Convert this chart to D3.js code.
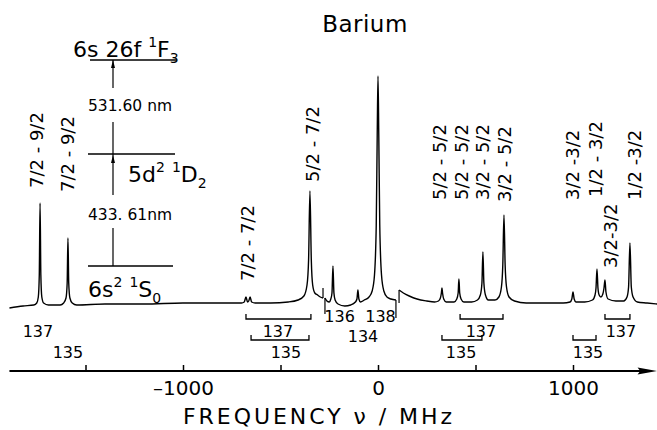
<!DOCTYPE html>
<html>
<head>
<meta charset="utf-8">
<script src="https://cdn.jsdelivr.net/npm/d3@7"></script>
<style>
  body { margin: 0; background: #fff; }
  svg { display: block; font-family: "DejaVu Sans", sans-serif; }
</style>
</head>
<body>
<div id="chart"></div>
<script>
// recorded spectrum, three segments: [frequency MHz, signal a.u.]
const traceA = [
    [-1890, -3], [-1820, -1], [-1765, 0], [-1750, 2], [-1742, 8], [-1737, 30], [-1733, 102],
    [-1729, 30], [-1724, 8], [-1715, 2], [-1690, 0], [-1630, 0], [-1612, 2], [-1600, 7],
    [-1594, 22], [-1590, 67], [-1586, 22], [-1580, 7], [-1568, 2], [-1545, 0], [-1400, 1],
    [-1200, 1], [-1000, 2], [-800, 2], [-700, 2], [-686, 3], [-677, 8], [-669, 3], [-663, 4],
    [-656, 8], [-648, 3], [-630, 2], [-550, 2], [-460, 3], [-410, 5], [-380, 9], [-364, 20],
    [-356, 45], [-349, 114], [-342, 45], [-335, 20], [-324, 12], [-310, 10], [-296, 8], [-282, 7]
];
const traceB = [
    [-272, 7], [-262, 4], [-250, 3], [-242, 6], [-236, 12], [-231, 39], [-226, 12], [-220, 5],
    [-205, 1], [-170, -1], [-140, 0], [-116, 3], [-108, 6], [-103, 15], [-98, 6], [-90, 3],
    [-70, 5], [-46, 8], [-30, 14], [-18, 30], [-9, 80], [-4, 170], [0, 229], [4, 170], [9, 80],
    [18, 30], [30, 14], [46, 8], [66, 6], [92, 5]
];
const traceC = [
    [108, 15], [130, 12], [160, 9], [200, 6], [250, 4], [290, 3], [310, 4], [320, 7], [325, 12],
    [328, 17], [331, 12], [337, 6], [350, 3], [390, 3], [404, 6], [411, 12], [415, 26], [419, 12],
    [426, 6], [440, 3], [480, 3], [510, 5], [525, 10], [533, 22], [538, 53], [543, 22], [551, 10],
    [566, 5], [600, 5], [620, 8], [633, 18], [640, 40], [646, 90], [652, 40], [659, 18], [672, 8],
    [700, 4], [760, 2], [850, 2], [950, 2], [985, 3], [994, 6], [1000, 13], [1006, 6], [1015, 3],
    [1060, 3], [1100, 5], [1113, 10], [1118, 17], [1123, 36], [1128, 17], [1134, 10], [1143, 8],
    [1153, 11], [1159, 17], [1164, 25], [1169, 13], [1180, 6], [1220, 4], [1260, 4], [1277, 8],
    [1285, 18], [1292, 62], [1299, 18], [1308, 8], [1330, 3], [1380, 2], [1431, 1]
];

// marks at the ends of the recorded segments: [MHz, from, to]
const breakTicks = [[-282, 7, 17], [-272, 7, -9], [92, 5, -13], [108, 15, 2]];

// hyperfine transitions F - F': [label, MHz, signal level of the label foot]
const transitions = [
    ["7/2 - 9/2", -1749, 117], ["7/2 - 9/2", -1590, 113], ["7/2 - 7/2", -667, 24],
    ["5/2 - 7/2", -338, 123], ["5/2 - 5/2", 318, 105], ["5/2 - 5/2", 426, 105],
    ["3/2 - 5/2", 538, 105], ["3/2 - 5/2", 651, 103], ["3/2 -3/2", 1000, 105],
    ["1/2 - 3/2", 1113, 108], ["3/2-3/2", 1190, 37], ["1/2 -3/2", 1318, 105]
];

// isotope brackets: [from MHz, to MHz, row]
const brackets = [[-677, -344, 1], [-651, -354, 2], [421, 641, 1], [328, 533, 2], [1000, 1118, 2], [1164, 1292, 1]];
// isotope labels: [mass, MHz, row]
const isotopes = [
    ["137", -1744, 1], ["135", -1590, 3], ["137", -513, 1], ["135", -472, 3],
    ["136", -197, 0], ["138", 13, 0], ["134", -77, 2],
    ["137", 528, 1], ["135", 426, 3], ["135", 1077, 3], ["137", 1246, 1]
];

const tickValues = [-1500, -1000, -500, 0, 500, 1000];
const tickLabels = [-1000, 0, 1000];

const width = 657, height = 430;
const svg = d3.select("#chart").append("svg")
    .attr("width", width)
    .attr("height", height);

const x = d3.scaleLinear().domain([-1000, 1000]).range([183, 573]);
const y = d3.scaleLinear().domain([0, 229]).range([305, 76]);

// Spectrum
const line = d3.line()
    .x(d => x(d[0]))
    .y(d => y(d[1]))
    .curve(d3.curveMonotoneX);

svg.selectAll(".trace")
    .data([traceA, traceB, traceC])
    .enter()
    .append("path")
    .attr("class", "trace")
    .attr("d", line)
    .attr("fill", "none")
    .attr("stroke", "#000")
    .attr("stroke-width", 1.4)
    .attr("stroke-linejoin", "round");

svg.selectAll(".brk")
    .data(breakTicks)
    .enter()
    .append("line")
    .attr("class", "brk")
    .attr("x1", d => x(d[0])).attr("x2", d => x(d[0]))
    .attr("y1", d => y(d[1])).attr("y2", d => y(d[2]))
    .attr("stroke", "#000")
    .attr("stroke-width", 1.2);

// Transition labels (rotated)
svg.selectAll(".trans")
    .data(transitions)
    .enter()
    .append("text")
    .attr("class", "trans")
    .attr("transform", d => `translate(${x(d[1])},${y(d[2])}) rotate(-90)`)
    .attr("dy", "0.36em")
    .attr("font-size", 18)
    .text(d => d[0]);

// Isotope brackets and labels
const rowLine = { 1: 319, 2: 340 };
const rowText = [322, 337, 342, 358];

svg.selectAll(".bracket")
    .data(brackets)
    .enter()
    .append("path")
    .attr("class", "bracket")
    .attr("d", d => {
        const yl = rowLine[d[2]];
        return `M${x(d[0])},${yl - 5}V${yl}H${x(d[1])}V${yl - 5}`;
    })
    .attr("fill", "none")
    .attr("stroke", "#000")
    .attr("stroke-width", 1.3);

svg.selectAll(".iso")
    .data(isotopes)
    .enter()
    .append("text")
    .attr("class", "iso")
    .attr("x", d => x(d[1]))
    .attr("y", d => rowText[d[2]])
    .attr("text-anchor", "middle")
    .attr("font-size", 16)
    .text(d => d[0]);

// Frequency axis
const axisY = 371;
const ax = svg.append("g")
    .attr("transform", `translate(0,${axisY})`)
    .call(d3.axisBottom(x)
        .tickValues(tickValues)
        .tickSize(-6)
        .tickPadding(10)
        .tickFormat(d => tickLabels.includes(d) ? (d < 0 ? "\u2013" + Math.abs(d) : d) : ""));
ax.select(".domain").remove();
ax.selectAll(".tick line").attr("stroke", "#000").attr("stroke-width", 1.5);
ax.selectAll(".tick text")
    .attr("font-size", 20)
    .attr("font-family", "DejaVu Sans, sans-serif")
    .attr("fill", "#000");

svg.append("line")
    .attr("x1", x(-1890)).attr("x2", x(1370))
    .attr("y1", axisY).attr("y2", axisY)
    .attr("stroke", "#000")
    .attr("stroke-width", 2);
svg.append("path")
    .attr("d", `M${x(1431)},${axisY}L${x(1331)},${axisY - 3.5}L${x(1345)},${axisY}L${x(1331)},${axisY + 3.5}Z`)
    .attr("fill", "#000");

svg.append("text")
    .attr("x", 183)
    .attr("y", 424)
    .attr("font-size", 22)
    .attr("textLength", 269)
    .attr("lengthAdjust", "spacing")
    .text("FREQUENCY \u03bd / MHz");

// Title
svg.append("text")
    .attr("x", 365)
    .attr("y", 32)
    .attr("text-anchor", "middle")
    .attr("font-size", 23)
    .attr("letter-spacing", 0.5)
    .text("Barium");

// Level scheme
const levelLines = [[90, 177, 60], [88, 175, 154], [88, 173, 266]];
svg.selectAll(".level")
    .data(levelLines)
    .enter()
    .append("line")
    .attr("x1", d => d[0]).attr("x2", d => d[1])
    .attr("y1", d => d[2]).attr("y2", d => d[2])
    .attr("stroke", "#000")
    .attr("stroke-width", 1.5);

const arrowX = 113;
[[60, 88], [122, 195], [228, 266]].forEach(s => {
    svg.append("line")
        .attr("x1", arrowX).attr("x2", arrowX)
        .attr("y1", s[0]).attr("y2", s[1])
        .attr("stroke", "#000")
        .attr("stroke-width", 1.2);
});
[60, 155].forEach(tip => {
    svg.append("path")
        .attr("d", `M${arrowX},${tip}L${arrowX - 2},${tip + 8}L${arrowX + 2},${tip + 8}Z`)
        .attr("fill", "#000");
});

const wavelengths = ["531.60 nm", "433. 61nm"];
svg.selectAll(".wl")
    .data(wavelengths)
    .enter()
    .append("text")
    .attr("x", 88)
    .attr("y", (d, i) => i === 0 ? 111 : 220)
    .attr("font-size", 15.5)
    .text(d => d);

function levelLabel(parts, px, py) {
    const t = svg.append("text").attr("x", px).attr("y", py).attr("font-size", 22);
    parts.forEach(p => {
        t.append("tspan")
            .attr("font-size", p[1] === 0 ? 22 : 14)
            .attr("dy", p[2])
            .text(p[0]);
    });
}
levelLabel([["6s 26f  ", 0, 0], ["1", 1, -10], ["F", 0, 10], ["3", 1, 6]], 73, 57);
levelLabel([["5d", 0, 0], ["2", 1, -10], [" ", 0, 10], ["1", 1, -10], ["D", 0, 10], ["2", 1, 6]], 128, 182);
levelLabel([["6s", 0, 0], ["2", 1, -10], [" ", 0, 10], ["1", 1, -10], ["S", 0, 10], ["0", 1, 6]], 88, 297);
</script>
</body>
</html>
